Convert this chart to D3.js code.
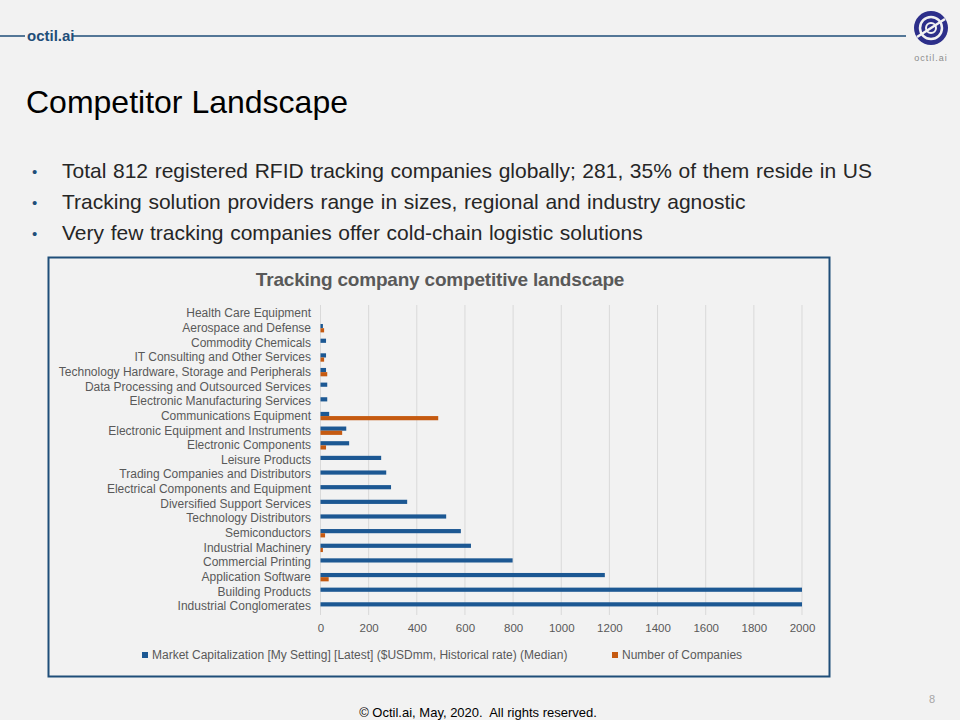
<!DOCTYPE html>
<html>
<head>
<meta charset="utf-8">
<script src="https://cdn.jsdelivr.net/npm/d3@7"></script>
<style>
  body { margin: 0; background: #f2f2f2; }
  svg { display: block; font-family: "Liberation Sans", Arial, sans-serif; }
</style>
</head>
<body>
<div id="slide"></div>
<script>
// categories, top to bottom as shown on the slide
var categories = [
  "Health Care Equipment",
  "Aerospace and Defense",
  "Commodity Chemicals",
  "IT Consulting and Other Services",
  "Technology Hardware, Storage and Peripherals",
  "Data Processing and Outsourced Services",
  "Electronic Manufacturing Services",
  "Communications Equipment",
  "Electronic Equipment and Instruments",
  "Electronic Components",
  "Leisure Products",
  "Trading Companies and Distributors",
  "Electrical Components and Equipment",
  "Diversified Support Services",
  "Technology Distributors",
  "Semiconductors",
  "Industrial Machinery",
  "Commercial Printing",
  "Application Software",
  "Building Products",
  "Industrial Conglomerates"
];
// market cap median ($USDmm), same order
var marketCap = [0, 10, 23, 23, 23, 28, 28, 36, 107, 119, 252, 273, 293, 360, 522, 583, 625, 798, 1181, 2000, 2000];
// number of companies, same order
var companyCount = [0, 15, 0, 15, 28, 0, 0, 489, 90, 23, 0, 0, 0, 0, 0, 19, 10, 0, 34, 0, 0];

var seriesNames = ["Market Capitalization [My Setting] [Latest] ($USDmm, Historical rate) (Median)", "Number of Companies"];
var seriesColors = ["#1c5893", "#c55a11"];
var xTicks = [0, 200, 400, 600, 800, 1000, 1200, 1400, 1600, 1800, 2000];

var bullets = [
  "Total 812 registered RFID tracking companies globally; 281, 35% of them reside in US",
  "Tracking solution providers range in sizes, regional and industry agnostic",
  "Very few tracking companies offer cold-chain logistic solutions"
];

var W = 960, H = 720;
var svg = d3.select("#slide").append("svg")
  .attr("width", W)
  .attr("height", H);

svg.append("rect").attr("width", W).attr("height", H).attr("fill", "#f2f2f2");

// header line + brand
svg.append("line").attr("x1", 0).attr("x2", 25).attr("y1", 36).attr("y2", 36)
  .attr("stroke", "#1f4e79").attr("stroke-width", 1.5);
svg.append("line").attr("x1", 72).attr("x2", 906).attr("y1", 36).attr("y2", 36)
  .attr("stroke", "#1f4e79").attr("stroke-width", 1.5);
svg.append("text")
  .attr("x", 27).attr("y", 41)
  .style("font-family", "'Liberation Sans Narrow', 'Arial Narrow', sans-serif")
  .style("font-weight", "bold")
  .style("font-size", "15px")
  .attr("fill", "#1f4e79")
  .text("octil.ai");

// logo
var logo = svg.append("g").attr("transform", "translate(931,28)");
logo.append("circle").attr("r", 17).attr("fill", "#2d2f8a");
logo.append("circle").attr("r", 11).attr("fill", "none").attr("stroke", "#f2f2f2").attr("stroke-width", 2.5);
logo.append("circle").attr("r", 5).attr("fill", "none").attr("stroke", "#f2f2f2").attr("stroke-width", 2);
logo.append("line").attr("x1", -14).attr("y1", 9).attr("x2", 14).attr("y2", -9)
  .attr("stroke", "#f2f2f2").attr("stroke-width", 2.5);
svg.append("text")
  .attr("x", 931).attr("y", 61)
  .attr("text-anchor", "middle")
  .style("font-size", "9px")
  .style("letter-spacing", "1px")
  .attr("fill", "#8c8c8c")
  .text("octil.ai");

// slide title
svg.append("text")
  .attr("x", 26).attr("y", 113)
  .style("font-size", "32px")
  .attr("fill", "#000")
  .text("Competitor Landscape");

// bullets
bullets.forEach(function(b, i) {
  var yy = 178 + i * 31;
  svg.append("text").attr("x", 32).attr("y", yy - 1)
    .style("font-size", "15px").attr("fill", "#1f4e79").text("•");
  svg.append("text").attr("x", 62).attr("y", yy)
    .style("font-size", "21px")
    .style("word-spacing", "0.8px")
    .attr("fill", "#262626")
    .text(b);
});

// chart frame
svg.append("rect")
  .attr("x", 48.5).attr("y", 257.5)
  .attr("width", 781).attr("height", 419)
  .attr("fill", "#f2f2f2")
  .attr("stroke", "#1f4e79").attr("stroke-width", 2);

svg.append("text")
  .attr("x", 440).attr("y", 286)
  .attr("text-anchor", "middle")
  .style("font-weight", "bold")
  .style("font-size", "19px")
  .style("letter-spacing", "-0.2px")
  .attr("fill", "#595959")
  .text("Tracking company competitive landscape");

// scales
var x = d3.scaleLinear()
  .domain([0, 2000])
  .range([320.5, 802]);

var y = d3.scaleBand()
  .domain(categories)
  .range([305.5, 614.5])
  .paddingInner(0)
  .paddingOuter(0.05);

var ySub = d3.scaleBand()
  .domain([0, 1])
  .range([0, y.bandwidth()])
  .paddingInner(0)
  .paddingOuter(0.75);

// gridlines
svg.append("g")
  .selectAll("line")
  .data(xTicks)
  .enter()
  .append("line")
    .attr("x1", function(d) { return x(d); })
    .attr("x2", function(d) { return x(d); })
    .attr("y1", 305)
    .attr("y2", 615)
    .attr("stroke", "#d9d9d9")
    .attr("stroke-width", 1);

// x axis labels
var xAxis = svg.append("g")
  .attr("transform", "translate(0,616)")
  .call(d3.axisBottom(x).tickValues(xTicks).tickSize(0).tickPadding(8).tickFormat(d3.format("d")));
xAxis.select(".domain").remove();
xAxis.selectAll("text")
  .style("font-family", "'Liberation Sans', Arial, sans-serif")
  .style("font-size", "11.5px")
  .attr("fill", "#595959");

// y axis labels
var yAxis = svg.append("g")
  .attr("transform", "translate(311,0)")
  .call(d3.axisLeft(y).tickSize(0).tickPadding(0));
yAxis.select(".domain").remove();
yAxis.selectAll("text")
  .style("font-family", "'Liberation Sans', Arial, sans-serif")
  .style("font-size", "12px")
  .attr("fill", "#595959");

// bars
var rows = categories.map(function(c, i) {
  return { cat: c, vals: [marketCap[i], companyCount[i]] };
});

var groups = svg.append("g")
  .selectAll("g")
  .data(rows)
  .enter()
  .append("g")
    .attr("transform", function(d) { return "translate(0," + y(d.cat) + ")"; });

groups.selectAll("rect")
  .data(function(d) { return d.vals.map(function(v, k) { return { k: k, v: v }; }); })
  .enter()
  .append("rect")
    .attr("x", x(0))
    .attr("y", function(d) { return ySub(d.k); })
    .attr("width", function(d) { return x(d.v) - x(0); })
    .attr("height", ySub.bandwidth())
    .attr("fill", function(d) { return seriesColors[d.k]; });

// legend
var legendX = [142, 612];
seriesNames.forEach(function(name, k) {
  svg.append("rect")
    .attr("x", legendX[k]).attr("y", 652)
    .attr("width", 6).attr("height", 6)
    .attr("fill", seriesColors[k]);
  svg.append("text")
    .attr("x", legendX[k] + 10).attr("y", 659)
    .style("font-size", "12px")
    .attr("fill", "#595959")
    .text(name);
});

// footer
svg.append("text")
  .attr("x", 932).attr("y", 703)
  .attr("text-anchor", "middle")
  .style("font-size", "11px")
  .attr("fill", "#a6a6a6")
  .text("8");
svg.append("text")
  .attr("x", 478).attr("y", 717)
  .attr("text-anchor", "middle")
  .style("font-size", "13px")
  .attr("fill", "#000")
  .style("white-space", "pre")
  .text("© Octil.ai, May, 2020.  All rights reserved.");
</script>
</body>
</html>
